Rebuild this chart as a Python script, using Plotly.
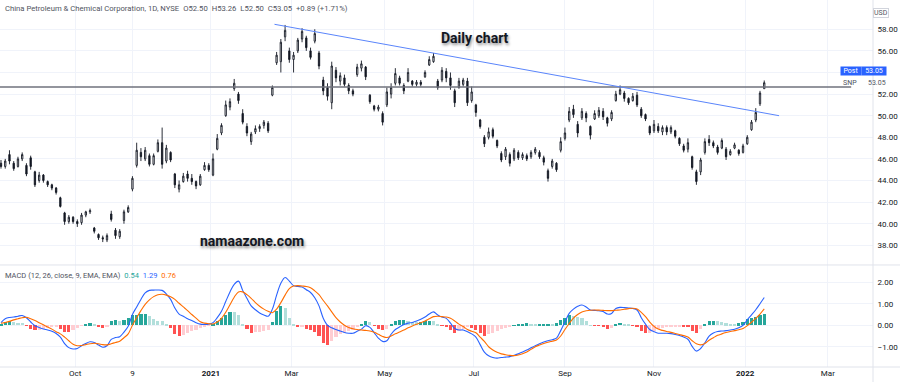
import pandas as pd
import plotly.graph_objects as go
from plotly.subplots import make_subplots

# ---------------- data ----------------
holidays = ["2020-09-07", "2020-11-26", "2020-12-25", "2021-01-01", "2021-01-18",
            "2021-02-15", "2021-04-02", "2021-05-31", "2021-07-05", "2021-09-06",
            "2021-11-25", "2021-12-24", "2022-01-17", "2022-02-21"]
first_day = "2020-08-12"
last_day = "2022-01-14"

opens = [45.6, 45.3, 46.4, 45.6, 45.3, 46.0, 45.4, 46.1, 44.8, 44.0,
         44.5, 43.9, 43.6, 43.3, 42.4, 41.0, 40.2, 40.6, 40.2, 40.1,
         40.8, 41.1, 39.6, 39.0, 38.7, 38.5, 40.9, 39.4, 38.8, 40.3,
         41.1, 43.2, 45.4, 46.6, 46.0, 46.3, 45.5, 46.7, 47.5, 45.8,
         46.6, 44.6, 43.2, 43.9, 44.6, 44.2, 43.9, 43.6, 45.0, 45.4,
         44.5, 46.9, 48.4, 50.0, 50.8, 52.5, 52.0, 50.2, 49.0, 47.6,
         48.5, 48.8, 49.1, 49.3, 51.9, 54.9, 55.0, 57.3, 56.0, 55.2,
         56.0, 57.1, 57.2, 56.0, 56.9, 55.8, 53.3, 52.6, 51.2, 54.2,
         53.2, 53.5, 52.8, 52.3, 53.8, 54.4, 54.5, 51.9, 50.9, 50.6,
         50.2, 51.0, 52.0, 53.0, 53.5, 52.8, 53.2, 53.2, 52.9, 53.1,
         53.6, 54.7, 55.0, 53.2, 53.3, 54.1, 53.5, 52.3, 52.6, 52.9,
         53.2, 51.4, 51.0, 49.6, 48.0, 48.0, 48.7, 47.7, 46.5, 46.2,
         46.4, 46.0, 46.6, 46.1, 46.3, 46.2, 46.6, 46.6, 46.1, 44.9,
         45.3, 45.6, 46.8, 47.9, 49.6, 50.6, 49.2, 49.8, 50.2, 49.0,
         49.7, 50.0, 50.4, 49.8, 49.7, 51.4, 52.0, 52.1, 51.6, 51.4,
         51.9, 50.6, 50.1, 49.0, 48.6, 49.0, 48.5, 48.9, 48.5, 48.6,
         47.9, 47.2, 46.9, 46.2, 44.8, 44.8, 46.6, 47.8, 47.5, 47.1,
         47.0, 46.9, 46.4, 47.0, 46.8, 46.6, 47.4, 48.7, 49.6, 51.1,
         52.50]
highs = [45.9, 46.0, 46.8, 45.8, 46.2, 46.6, 45.6, 46.3, 44.9, 44.8,
         44.6, 44.0, 43.7, 43.4, 42.5, 41.1, 40.8, 40.7, 40.4, 41.0,
         41.2, 41.4, 39.7, 39.1, 38.9, 39.1, 41.2, 39.6, 39.5, 41.3,
         41.7, 44.4, 47.5, 47.0, 47.1, 46.5, 46.5, 47.8, 48.9, 47.3,
         46.7, 44.7, 44.0, 44.7, 44.9, 44.6, 44.0, 44.6, 45.7, 45.6,
         46.5, 48.3, 49.3, 51.4, 51.6, 53.4, 52.2, 50.6, 49.3, 48.5,
         49.1, 49.2, 49.6, 49.5, 52.8, 55.9, 57.1, 58.4, 56.3, 55.9,
         57.2, 58.1, 57.4, 56.3, 58.0, 56.0, 53.6, 53.0, 55.0, 54.5,
         54.0, 53.8, 53.0, 52.5, 54.8, 55.1, 54.6, 52.0, 51.0, 51.0,
         50.4, 52.6, 53.0, 54.4, 53.7, 53.0, 54.4, 53.3, 53.3, 53.3,
         54.2, 55.5, 55.8, 53.4, 54.5, 54.4, 54.0, 52.5, 53.5, 53.5,
         53.5, 52.7, 51.1, 49.7, 48.2, 48.9, 48.9, 47.8, 46.7, 47.1,
         46.6, 47.0, 46.8, 46.6, 46.5, 46.8, 47.1, 46.8, 46.3, 45.1,
         46.0, 45.7, 48.0, 48.9, 50.8, 51.0, 49.5, 50.7, 50.4, 49.1,
         50.5, 50.8, 50.7, 49.9, 50.5, 52.3, 52.8, 52.3, 51.7, 52.1,
         52.2, 50.8, 50.2, 49.1, 49.6, 49.3, 49.1, 49.1, 49.1, 48.7,
         48.0, 47.4, 47.9, 46.3, 45.0, 46.1, 47.9, 48.2, 47.7, 47.3,
         47.9, 47.1, 46.9, 47.5, 46.9, 47.4, 48.2, 49.6, 50.7, 52.3,
         53.26]
lows = [45.1, 45.1, 45.5, 44.9, 45.2, 45.8, 44.4, 45.0, 43.4, 43.8,
        43.8, 43.4, 43.1, 42.7, 41.5, 39.9, 40.0, 40.0, 39.7, 39.9,
        40.6, 40.9, 39.1, 38.5, 38.3, 38.3, 40.2, 38.6, 38.6, 40.0,
        41.0, 43.0, 45.2, 45.8, 45.8, 45.3, 45.4, 46.6, 45.1, 45.6,
        45.7, 43.3, 42.9, 43.8, 43.9, 43.6, 43.2, 43.5, 44.9, 44.8,
        44.4, 46.8, 48.2, 49.9, 50.5, 52.3, 51.1, 49.2, 48.1, 47.3,
        48.3, 48.5, 48.8, 48.4, 51.8, 54.7, 54.0, 56.9, 54.9, 54.0,
        55.8, 56.8, 56.0, 55.2, 56.7, 54.3, 51.9, 51.4, 50.6, 53.1,
        52.8, 52.7, 52.0, 51.8, 53.6, 54.1, 53.3, 51.1, 50.4, 50.4,
        49.1, 50.8, 51.6, 52.8, 52.8, 52.0, 53.1, 52.7, 52.7, 52.7,
        53.5, 54.6, 54.9, 52.4, 53.1, 53.1, 52.4, 50.8, 52.5, 52.7,
        50.9, 51.2, 49.9, 48.8, 47.1, 47.8, 47.9, 47.0, 45.7, 45.9,
        45.3, 45.8, 45.9, 45.9, 45.8, 46.0, 46.4, 46.0, 45.4, 43.9,
        45.1, 44.8, 46.6, 47.7, 49.4, 49.8, 48.0, 49.6, 49.4, 47.8,
        49.6, 49.8, 49.6, 49.0, 49.5, 51.3, 51.9, 51.3, 51.0, 51.3,
        50.8, 49.8, 49.5, 48.2, 48.4, 48.4, 48.2, 48.2, 48.3, 47.9,
        47.2, 46.6, 46.6, 45.0, 43.6, 44.5, 46.4, 47.2, 47.0, 46.4,
        46.9, 45.9, 46.3, 46.9, 46.3, 46.5, 47.3, 48.6, 49.4, 50.9,
        52.50]
closes = [45.3, 45.8, 45.8, 45.1, 46.0, 46.4, 44.6, 45.3, 43.6, 44.5,
          44.0, 43.6, 43.3, 42.9, 41.6, 40.2, 40.6, 40.2, 40.0, 40.8,
          41.1, 41.2, 39.3, 38.7, 38.6, 38.9, 40.4, 38.9, 39.3, 41.1,
          41.5, 44.2, 46.8, 46.2, 46.8, 45.5, 46.3, 47.5, 45.5, 47.0,
          45.9, 43.6, 43.6, 44.4, 44.2, 43.9, 43.5, 44.4, 45.4, 45.0,
          46.0, 47.9, 49.1, 51.0, 51.3, 53.0, 51.4, 49.4, 48.4, 48.3,
          48.8, 49.0, 49.4, 48.6, 52.6, 55.6, 56.8, 57.9, 55.2, 55.6,
          57.0, 57.8, 56.3, 55.4, 57.6, 54.6, 52.3, 51.8, 54.6, 53.5,
          53.7, 52.9, 52.3, 52.0, 54.5, 54.8, 53.6, 51.3, 50.6, 50.8,
          49.4, 52.2, 52.6, 53.9, 53.0, 52.3, 54.0, 52.9, 53.1, 52.9,
          54.0, 55.2, 55.5, 52.6, 54.2, 53.5, 52.8, 51.2, 53.2, 53.3,
          51.2, 52.2, 50.3, 49.0, 47.4, 48.5, 48.1, 47.2, 45.9, 46.9,
          45.6, 46.8, 46.1, 46.4, 46.0, 46.6, 46.9, 46.2, 45.7, 44.2,
          45.8, 45.0, 47.6, 48.4, 50.4, 50.1, 48.4, 50.4, 49.8, 48.2,
          50.2, 50.5, 49.9, 49.3, 50.3, 52.0, 52.4, 51.6, 51.2, 51.8,
          51.0, 50.0, 49.7, 48.4, 49.2, 48.6, 48.9, 48.5, 48.9, 48.1,
          47.4, 46.8, 47.5, 45.2, 43.9, 45.9, 47.6, 47.5, 47.2, 46.6,
          47.7, 46.2, 46.7, 47.3, 46.5, 47.2, 48.0, 49.4, 50.3, 52.1,
          53.05]

macd_line = [0.12, 0.30, 0.36, 0.38, 0.42, 0.45, 0.35, 0.15, -0.02, -0.10,
             -0.17, -0.22, -0.28, -0.38, -0.55, -0.85, -1.04, -1.10, -1.08, -0.95,
             -0.85, -0.77, -0.80, -0.92, -1.02, -0.95, -0.66, -0.57, -0.53, -0.32,
             -0.05, 0.50, 0.85, 1.20, 1.50, 1.62, 1.63, 1.64, 1.62, 1.45,
             1.20, 0.80, 0.52, 0.42, 0.30, 0.22, 0.12, 0.05, 0.04, 0.05,
             0.12, 0.35, 0.65, 1.10, 1.55, 1.90, 2.05, 1.62, 1.25, 0.90,
             0.72, 0.57, 0.48, 0.42, 0.75, 1.40, 1.95, 2.22, 2.05, 1.84,
             1.80, 1.78, 1.65, 1.52, 1.28, 0.90, 0.33, 0.00, -0.12, -0.20,
             -0.27, -0.34, -0.37, -0.37, -0.28, -0.18, -0.02, -0.10, -0.34, -0.60,
             -0.75, -0.72, -0.42, -0.20, -0.08, 0.03, 0.10, 0.13, 0.20, 0.28,
             0.38, 0.52, 0.62, 0.48, 0.38, 0.32, 0.10, -0.15, -0.22, -0.22,
             -0.30, -0.40, -0.55, -0.90, -1.25, -1.42, -1.50, -1.53, -1.50, -1.48,
             -1.46, -1.40, -1.33, -1.24, -1.15, -1.05, -0.95, -0.86, -0.78, -0.72,
             -0.67, -0.60, -0.25, 0.15, 0.55, 0.75, 0.88, 0.94, 0.85, 0.71,
             0.69, 0.67, 0.64, 0.52, 0.55, 0.78, 0.83, 0.82, 0.80, 0.78,
             0.71, 0.35, 0.05, -0.20, -0.30, -0.37, -0.37, -0.37, -0.39, -0.43,
             -0.48, -0.55, -0.65, -0.98, -1.20, -1.08, -0.82, -0.50, -0.36, -0.29,
             -0.27, -0.25, -0.22, -0.19, -0.12, 0.00, 0.25, 0.48, 0.72, 1.00,
             1.29]
signal_line = [0.09, 0.13, 0.18, 0.25, 0.30, 0.35, 0.37, 0.30, 0.22, 0.12,
               0.02, -0.08, -0.18, -0.30, -0.40, -0.55, -0.72, -0.88, -0.95, -0.94,
               -0.90, -0.86, -0.84, -0.86, -0.90, -0.91, -0.86, -0.80, -0.74, -0.58,
               -0.40, 0.00, 0.35, 0.68, 0.97, 1.18, 1.33, 1.42, 1.44, 1.40,
               1.32, 1.20, 1.02, 0.85, 0.68, 0.50, 0.33, 0.16, 0.10, 0.07,
               0.06, 0.15, 0.32, 0.60, 0.95, 1.30, 1.55, 1.55, 1.42, 1.25,
               1.05, 0.88, 0.75, 0.65, 0.58, 0.75, 1.05, 1.40, 1.70, 1.82,
               1.84, 1.82, 1.80, 1.74, 1.60, 1.42, 1.15, 0.90, 0.62, 0.35,
               0.15, 0.00, -0.10, -0.16, -0.20, -0.22, -0.24, -0.27, -0.33, -0.42,
               -0.52, -0.57, -0.50, -0.40, -0.31, -0.22, -0.12, -0.03, 0.05, 0.12,
               0.20, 0.30, 0.40, 0.42, 0.40, 0.38, 0.32, 0.20, 0.05, -0.06,
               -0.20, -0.28, -0.35, -0.55, -0.75, -1.00, -1.15, -1.26, -1.33, -1.37,
               -1.40, -1.41, -1.38, -1.32, -1.24, -1.12, -1.00, -0.92, -0.85, -0.79,
               -0.74, -0.69, -0.50, -0.20, 0.08, 0.33, 0.50, 0.62, 0.67, 0.70,
               0.71, 0.70, 0.69, 0.68, 0.68, 0.70, 0.71, 0.74, 0.77, 0.79,
               0.75, 0.60, 0.40, 0.15, -0.05, -0.18, -0.24, -0.29, -0.33, -0.38,
               -0.43, -0.48, -0.55, -0.72, -0.86, -0.91, -0.85, -0.70, -0.58, -0.47,
               -0.40, -0.34, -0.29, -0.25, -0.21, -0.15, -0.02, 0.14, 0.32, 0.52,
               0.76]

level_price = 52.66
trend_start = ("2021-02-17 12:00", 58.46)
trend_end = ("2022-01-26 12:00", 50.0)

tick_dates = ["2020-10-01 12:00", "2020-11-09 12:00", "2021-01-04 12:00", "2021-03-01 12:00",
              "2021-05-03 12:00", "2021-07-01 12:00", "2021-09-01 12:00", "2021-11-01 12:00",
              "2022-01-03 12:00", "2022-03-01 12:00"]
tick_labels = ["Oct", "9", "<b>2021</b>", "Mar", "May", "Jul", "Sep", "Nov", "<b>2022</b>", "Mar"]
price_ticks = [38, 40, 42, 44, 46, 48, 50, 52, 54, 56, 58]
# the 54.00 label sits under the "Post 53.05" price tag in the reference
price_tick_labels = ["38.00", "40.00", "42.00", "44.00", "46.00", "48.00", "50.00",
                     "52.00", "", "56.00", "58.00"]
macd_ticks = [-1, 0, 1, 2]
macd_tick_labels = ["\u22121.00", "0.00", "1.00", "2.00"]

# ---------------- derived ----------------
days = pd.bdate_range(first_day, last_day)
days = days[~days.isin(pd.to_datetime(holidays))]
dates = (days[::2] + pd.Timedelta(hours=12))[:len(closes)]

hist = [m - s for m, s in zip(macd_line, signal_line)]
hist_colors = []
for i, h in enumerate(hist):
    prev = hist[i - 1] if i > 0 else h
    if h >= 0:
        hist_colors.append("#26a69a" if h >= prev else "#b2dfdb")
    else:
        hist_colors.append("#ffcdd2" if h >= prev else "#ff5252")

DAY_MS = 86400000

fig = make_subplots(rows=2, cols=1, shared_xaxes=True, vertical_spacing=0,
                    row_heights=[0.722, 0.278])

fig.add_trace(go.Candlestick(
    x=dates, open=opens, high=highs, low=lows, close=closes,
    increasing=dict(line=dict(color="#131722", width=0.9), fillcolor="#ffffff"),
    decreasing=dict(line=dict(color="#131722", width=0.9), fillcolor="#131722"),
    whiskerwidth=0, showlegend=False, hoverinfo="skip"), row=1, col=1)

fig.add_trace(go.Bar(x=dates, y=hist, marker=dict(color=hist_colors, line=dict(width=0)),
                     width=DAY_MS * 1.5, showlegend=False, hoverinfo="skip"), row=2, col=1)
fig.add_trace(go.Scatter(x=dates, y=macd_line, mode="lines",
                         line=dict(color="#2962ff", width=1.1, shape="spline"),
                         showlegend=False, hoverinfo="skip"), row=2, col=1)
fig.add_trace(go.Scatter(x=dates, y=signal_line, mode="lines",
                         line=dict(color="#ff6d00", width=1.1, shape="spline"),
                         showlegend=False, hoverinfo="skip"), row=2, col=1)

grid = "#f0f3fa"
fig.update_xaxes(
    rangebreaks=[dict(bounds=["sat", "mon"]), dict(values=holidays)],
    range=["2020-08-12 00:43", "2022-03-30 19:12"], automargin=False,
    showgrid=True, gridcolor=grid, gridwidth=1, zeroline=False, showline=False,
    tickvals=tick_dates, ticktext=tick_labels, ticks="",
    tickfont=dict(size=8, color="#131722"))
fig.update_xaxes(showticklabels=False, rangeslider_visible=False, row=1, col=1)

fig.update_yaxes(side="right", range=[36.18, 60.71], tickvals=price_ticks, ticktext=price_tick_labels,
                 automargin=False, showgrid=True, gridcolor=grid, zeroline=False,
                 ticks="outside", ticklen=2, tickcolor="#ffffff",
                 tickfont=dict(size=8, color="#131722"), row=1, col=1)
fig.update_yaxes(side="right", range=[-1.94, 2.80], tickvals=macd_ticks, ticktext=macd_tick_labels,
                 automargin=False, showgrid=True, gridcolor=grid, zeroline=False,
                 ticks="outside", ticklen=2, tickcolor="#ffffff",
                 tickfont=dict(size=8, color="#131722"), row=2, col=1)

shapes = [
    dict(type="line", xref="paper", yref="y", x0=0, x1=0.975, y0=level_price, y1=level_price,
         line=dict(color="#6f727c", width=1.5)),
    dict(type="line", xref="x", yref="y", x0=trend_start[0], y0=trend_start[1],
         x1=trend_end[0], y1=trend_end[1], line=dict(color="#5a85fb", width=1)),
    dict(type="line", xref="paper", yref="paper", x0=0, x1=1.031, y0=0.278, y1=0.278,
         line=dict(color="#e0e3eb", width=1)),
    dict(type="line", xref="paper", yref="paper", x0=0, x1=1.031, y0=0, y1=0,
         line=dict(color="#e0e3eb", width=1)),
    dict(type="line", xref="paper", yref="paper", x0=1, x1=1, y0=-0.045, y1=1,
         line=dict(color="#e0e3eb", width=1)),
]

sp = "\u2002"
header = ("China Petroleum & Chemical Corporation, 1D, NYSE" + sp + "O52.50" + sp + "H53.26" + sp +
          "L52.50" + sp + "C53.05" + sp + "+0.89 (+1.71%)")
macd_title = ("MACD (12, 26, close, 9, EMA, EMA)" + sp +
              "<span style='color:#26a69a'>0.54</span>" + sp +
              "<span style='color:#2962ff'>1.29</span>" + sp +
              "<span style='color:#ff6d00'>0.76</span>")
annotations = [
    dict(text=header, xref="paper", yref="paper", x=0.004, y=0.978, xanchor="left",
         yanchor="middle", showarrow=False, font=dict(size=7.7, color="#50535e")),
    dict(text="<b>Daily chart</b>", xref="paper", yref="paper", x=0.544, y=0.924,
         showarrow=False, font=dict(size=14, color="#131722", shadow="1px 2px 3px rgba(0,0,0,0.45)")),
    dict(text="<b>namaazone.com</b>", xref="paper", yref="paper", x=0.227, y=0.343,
         showarrow=False, font=dict(size=14, color="#131722", shadow="1px 2px 3px rgba(0,0,0,0.45)")),
    dict(text=macd_title, xref="paper", yref="paper", x=0.004, y=0.248, xanchor="left",
         yanchor="middle", showarrow=False, font=dict(size=7.5, color="#50535e")),
    dict(text="USD", xref="paper", yref="paper", x=1.018, y=0.978, showarrow=False,
         font=dict(size=7, color="#50535e"), bordercolor="#d1d4dc", borderwidth=1, borderpad=0),
    dict(text="Post", xref="paper", yref="y", x=0.987, y=54.1, showarrow=False, width=20,
         bgcolor="#2962ff", font=dict(size=7, color="#ffffff"), borderpad=0),
    dict(text="53.05", xref="paper", yref="y", x=1.016, y=54.1, showarrow=False, width=24,
         bgcolor="#2962ff", font=dict(size=7, color="#ffffff"), borderpad=0),
    dict(text="SNP", xref="paper", yref="y", x=0.983, y=53.0, showarrow=False,
         font=dict(size=7, color="#50535e"), borderpad=0),
    dict(text="53.05", xref="paper", yref="y", x=1.016, y=53.0, showarrow=False,
         font=dict(size=7, color="#50535e"), borderpad=0),
]

fig.update_layout(width=900, height=382, margin=dict(l=0, r=27, t=0, b=15),
                  paper_bgcolor="#ffffff", plot_bgcolor="#ffffff", showlegend=False,
                  bargap=0, boxgap=0.55, font=dict(family="Roboto", size=8, color="#131722"),
                  shapes=shapes, annotations=annotations)

fig.write_html("out.html", config={"displayModeBar": False},
               post_script="document.body.style.margin='0';document.body.style.overflow='hidden';")
